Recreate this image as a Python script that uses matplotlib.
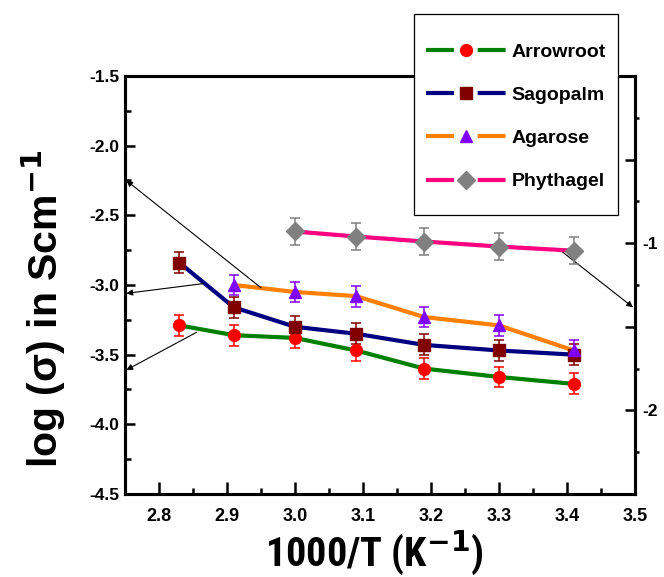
import numpy as np
import matplotlib
matplotlib.use("Agg")
import matplotlib.pyplot as plt
from matplotlib import font_manager
from matplotlib.lines import Line2D
from matplotlib.patches import Rectangle
from matplotlib.legend_handler import HandlerTuple
from matplotlib.ticker import MultipleLocator, FixedLocator, FuncFormatter

# data
x = [2.83, 2.91, 3.0, 3.09, 3.19, 3.30, 3.41]
arrowroot = [-3.29, -3.36, -3.38, -3.47, -3.60, -3.66, -3.71]
sagopalm = [-2.84, -3.16, -3.30, -3.35, -3.43, -3.47, -3.50]
x_agarose = [2.91, 3.0, 3.09, 3.19, 3.30, 3.41]
agarose = [-3.00, -3.05, -3.08, -3.23, -3.29, -3.47]
x_phytagel = [3.0, 3.09, 3.19, 3.30, 3.41]
phythagel = [-0.93, -0.96, -0.99, -1.02, -1.045]  # right axis
err_left = 0.075
err_right = 0.082

labels = ["Arrowroot", "Sagopalm", "Agarose", "Phythagel"]
line_colors = ["#008000", "#000080", "#FF8000", "#FF0080"]
marker_colors = ["#FF0000", "#800000", "#8000FF", "#808080"]
markers = ["o", "s", "^", "D"]

# annotation arrows (tail -> head), left axis units
arrows = [((2.95, -3.02), (2.752, -2.25)),
          ((2.865, -2.99), (2.752, -3.06)),
          ((2.855, -3.34), (2.752, -3.61)),
          ((3.39, -2.75), (3.497, -3.16))]

plt.rcParams["font.family"] = ["Liberation Sans", "DejaVu Sans"]
plt.rcParams["font.weight"] = "bold"
plt.rcParams["axes.unicode_minus"] = False


def pick_narrow():
    for name in ["Liberation Sans Narrow", "Arial Narrow", "Roboto Condensed",
                 "Open Sans Condensed", "DejaVu Sans Condensed"]:
        try:
            font_manager.findfont(font_manager.FontProperties(family=name, weight="bold"),
                                  fallback_to_default=False)
            return name, True
        except Exception:
            pass
    return "Liberation Sans", False


narrow_name, has_narrow = pick_narrow()
narrow = [narrow_name, "DejaVu Sans"]

fig = plt.figure(figsize=(6.64, 5.77), dpi=100)
ax = fig.add_axes([125 / 664, 1 - 494 / 577, 510 / 664, 418 / 577])
ax2 = ax.twinx()

series = [(x, arrowroot, ax, err_left), (x, sagopalm, ax, err_left),
          (x_agarose, agarose, ax, err_left), (x_phytagel, phythagel, ax2, err_right)]

for (xs, ys, a, e), lc, mc, m in zip(series, line_colors, marker_colors, markers):
    a.plot(xs, ys, color=lc, lw=3, zorder=2, solid_capstyle="round")
    a.errorbar(xs, ys, yerr=e, fmt="none", ecolor=mc, elinewidth=1.1,
               capsize=3.5, capthick=1.1, zorder=3)
    ms = 9 if m == "D" else 8.5
    a.plot(xs, ys, ls="none", marker=m, ms=ms, mfc=mc, mec=mc, zorder=4)

for tail, head in arrows:
    ax.annotate("", xy=head, xytext=tail,
                arrowprops=dict(arrowstyle="-|>", color="black", lw=0.8,
                                mutation_scale=9, shrinkA=0, shrinkB=0),
                zorder=5, annotation_clip=False)

ax.set_xlim(2.75, 3.5)
ax.set_ylim(-4.5, -1.5)
ax2.set_ylim(-2.5, 0)

ax.xaxis.set_major_locator(MultipleLocator(0.1))
ax.xaxis.set_minor_locator(MultipleLocator(0.05))
ax.yaxis.set_major_locator(MultipleLocator(0.5))
ax.yaxis.set_minor_locator(MultipleLocator(0.25))
ax.xaxis.set_major_formatter(FuncFormatter(lambda v, p: f"{v:.1f}" if v > 2.76 else ""))

ax2.yaxis.set_major_locator(FixedLocator([-0.5, -1, -1.5, -2]))
ax2.yaxis.set_minor_locator(FixedLocator([-0.25, -0.75, -1.25, -1.75, -2.25]))
ax2.yaxis.set_major_formatter(FuncFormatter(lambda v, p: f"{v:.0f}" if v == int(v) else ""))

for a in (ax, ax2):
    for s in a.spines.values():
        s.set_linewidth(2.2)

ax.tick_params(which="major", direction="in", length=7, width=1.8, top=False, right=False)
ax.tick_params(which="minor", direction="in", length=4.5, width=1.8, top=False, right=False)
ax.tick_params(axis="x", which="major", length=9, pad=10, labelsize=13)
ax.tick_params(axis="y", which="major", pad=4, labelsize=12.5)
ax2.tick_params(which="major", direction="in", length=7, width=1.8, pad=5, labelsize=12.5)
ax2.tick_params(which="minor", direction="out", length=3, width=1.8)

ax.set_ylabel("log (σ) in Scm$^{\\mathbf{-1}}$", fontsize=29.5, fontweight="bold")
ax.yaxis.set_label_coords(-0.112, 0.443)
ax.set_xlabel("1000/T (K$^{\\mathbf{-1}}$)", fontsize=29 if has_narrow else 25,
              fontweight="bold", fontfamily=narrow)
ax.xaxis.set_label_coords(0.49, -0.082)

# legend frame drawn as its own box, legend itself frameless
box = Rectangle((414 / 664, 1 - 215 / 577), 204 / 664, 201 / 577,
                transform=fig.transFigure, facecolor="white", edgecolor="black",
                lw=0.9, clip_on=False, zorder=9)
ax2.add_patch(box)

# legend handles: line with a gap around the marker
handles = []
for lc, mc, m in zip(line_colors, marker_colors, markers):
    ln = Line2D([], [], color=lc, lw=3, dashes=(6.7, 5.7))
    mk = Line2D([], [], ls="none", marker=m, ms=9 if m == "D" else 8.5, mfc=mc, mec=mc)
    handles.append((ln, mk))

leg = ax2.legend(handles, labels, handler_map={tuple: HandlerTuple(ndivide=1)},
                 loc="upper left", bbox_to_anchor=(426 / 664, 1 - 43 / 577),
                 bbox_transform=fig.transFigure, numpoints=1,
                 handlelength=4.1, handletextpad=0.3, labelspacing=1.32,
                 borderpad=0, borderaxespad=0, frameon=False,
                 prop={"size": 14, "weight": "bold"})
leg.set_zorder(10)

fig.savefig("out.png", dpi=100)
